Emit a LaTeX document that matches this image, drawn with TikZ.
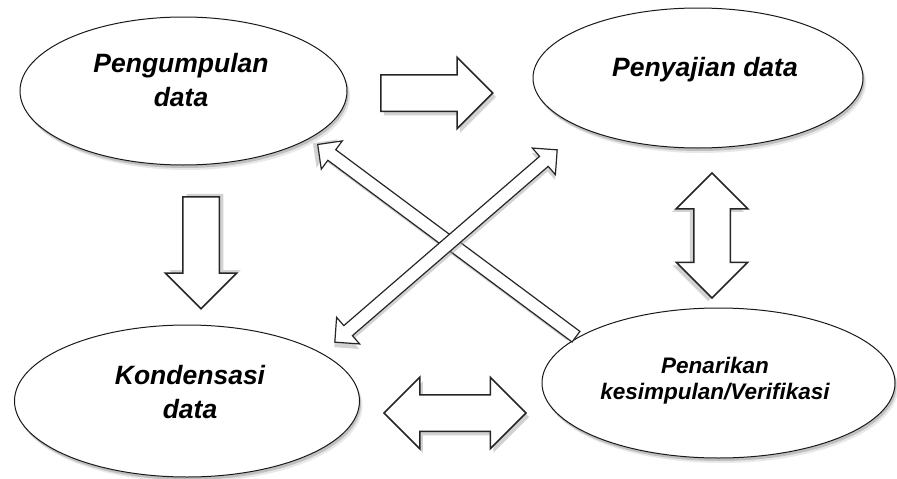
\documentclass[tikz,border=0pt]{standalone}
\usepackage{fontspec}
\setmainfont{Liberation Sans}
\usetikzlibrary{shapes.geometric,shapes.arrows,shadows}

\tikzset{
  oval/.style={ellipse,draw=black!90,line width=1pt,fill=white,inner sep=0pt,
    drop shadow={shadow xshift=3pt,shadow yshift=-5pt,fill=black!18},
    drop shadow={shadow xshift=1.5pt,shadow yshift=-3pt,fill=black!40}},
  bigtext/.style={align=center,font=\fontsize{26.5pt}{34pt}\selectfont\bfseries\itshape},
  smalltext/.style={align=center,font=\fontsize{22.5pt}{26pt}\selectfont\bfseries\itshape},
  blockarrow/.style={single arrow,draw=black!85,line width=1.5pt,fill=white,
    inner xsep=0pt,inner ysep=17.5pt,single arrow head extend=17.5pt},
  blockdouble/.style={double arrow,draw=black!85,line width=1.5pt,fill=white,
    inner xsep=0pt,inner ysep=17.5pt,double arrow head extend=17.5pt},
  thinarrow/.style={single arrow,draw=black!85,line width=1.2pt,fill=white,
    inner xsep=0pt,inner ysep=6pt,single arrow head extend=11pt},
  thindouble/.style={double arrow,draw=black!85,line width=1.2pt,fill=white,
    inner xsep=0pt,inner ysep=6pt,double arrow head extend=11pt},
  arrowshade/.style 2 args={drop shadow={shadow xshift=#1,shadow yshift=#2,fill=black!35}}
}

\begin{document}
\begin{tikzpicture}[x=1pt,y=-1pt]
    \useasboundingbox (0,0) rectangle (897,479);

    % the four stages
    \node[oval,minimum width=327pt,minimum height=148pt] (peng) at (183.5,91) {};
    \node[oval,minimum width=330pt,minimum height=140pt] (peny) at (698,78) {};
    \node[oval,minimum width=345pt,minimum height=152pt] (kond) at (187,401) {};
    \node[oval,minimum width=353pt,minimum height=150pt] (pena) at (718.5,383) {};

    \node[bigtext] (pengtext) at (181,80) {Pengumpulan\\data};
    \node[bigtext] (penytext) at (705,70) {Penyajian data};
    \node[bigtext] (kondtext) at (190,392) {Kondensasi\\data};
    \node[smalltext] (penatext) at (715,381) {Penarikan\\kesimpulan/Verifikasi};

    % block arrows
    \node[blockarrow,minimum height=112pt,anchor=tail,arrowshade={3pt}{-4pt}] (a1) at (380,93) {};
    \node[blockarrow,minimum height=112pt,rotate=-90,anchor=tail,arrowshade={4pt}{3pt}] (a2) at (201,196) {};
    \node[blockdouble,minimum height=125pt,rotate=90,arrowshade={-4pt}{-3pt}] (a3) at (712,235.5) {};
    \node[blockdouble,minimum height=142pt,arrowshade={3pt}{-4pt}] (a4) at (455,413) {};

    % diagonal arrows
    \node[thinarrow,minimum height=322pt,rotate=143.35,anchor=tip,arrowshade={-4.8pt}{1.4pt}] (a5) at (317,144) {};
    \node[thindouble,minimum height=294pt,rotate=40.85,arrowshade={-0.5pt}{-5pt}] (a6) at (446,246) {};
\end{tikzpicture}
\end{document}
